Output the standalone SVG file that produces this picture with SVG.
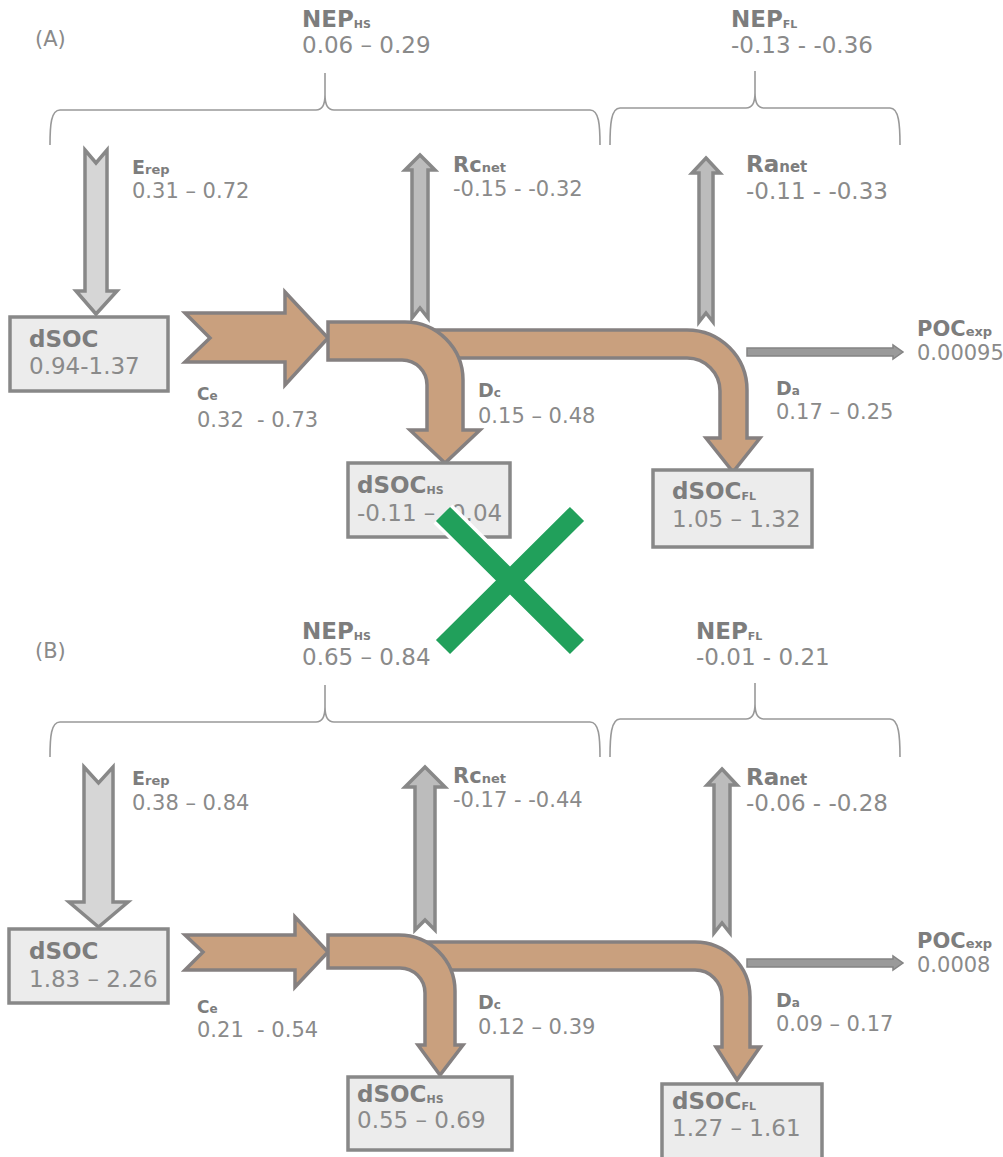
<svg xmlns="http://www.w3.org/2000/svg" width="1003" height="1157" viewBox="0 0 1003 1157">
<style>
text{font-family:"DejaVu Sans","Liberation Sans",sans-serif;fill:#8a8a8a;white-space:pre}
.b{font-weight:bold;fill:#7d7d7d}
.brace{fill:none;stroke:#999;stroke-width:1.6}
.box{fill:#ececec;stroke:#888;stroke-width:3.5}
.pipe{fill:#c9a07e;stroke:#858080;stroke-width:3.5;stroke-linejoin:miter}
.lt{fill:#d6d6d6;stroke:#888;stroke-width:3.5}
.dk{fill:#bcbcbc;stroke:#888;stroke-width:3.5}
.poc{fill:#9a9a9a;stroke:#848484;stroke-width:1.5}
</style>
<rect width="1003" height="1157" fill="#fff"/>
<g id="connectors">
  <!-- Panel A -->
  <path class="brace" d="M50,145 C50,125 51,110 60,110 L316,110 C322,110 325,104 325,95 L325,73 M325,95 C325,104 328,110 334,110 L590,110 C599,110 600,125 600,145"/>
  <path class="brace" d="M610,145 C610,125 611,108 620,108 L746,108 C752,108 755,102 755,93 L755,71 M755,93 C755,102 758,108 764,108 L890,108 C899,108 900,125 900,145"/>
  <polygon class="lt" points="85,150 96,163 107,150 107,291 117,291 96,314 76,291 85,291"/>
  <polygon class="dk" points="420,155 435,170 428,170 428,318 420,308 412,318 412,170 405,170"/>
  <polygon class="dk" points="706,158 720,173 713,173 713,322 706,313 699,322 699,173 692,173"/>
  <polygon class="pipe" points="185,313 285,313 285,292 328,338 285,385 285,362 185,362 210,338"/>
  <path class="pipe" d="M415,330 L687,330 A60,60 0 0 1 747,390 L747,438 L760,438 L733,472 L706,438 L720,438 L720,391 A33,33 0 0 0 687,358 L415,358 Z"/>
  <path class="pipe" d="M328,322 L405,322 A58,58 0 0 1 463,380 L463,430 L480,430 L445,463 L410,430 L427,430 L427,385 A25,25 0 0 0 402,360 L328,360 Z"/>
  <polygon class="poc" points="747,348 893,348 893,345 903,352 893,359 893,356 747,356"/>
  <!-- Panel B -->
  <path class="brace" d="M50,757 C50,737 51,722 60,722 L316,722 C322,722 325,716 325,707 L325,685 M325,707 C325,716 328,722 334,722 L590,722 C599,722 600,737 600,757"/>
  <path class="brace" d="M610,757 C610,737 611,719 620,719 L746,719 C752,719 755,713 755,704 L755,683 M755,704 C755,713 758,719 764,719 L890,719 C899,719 900,737 900,757"/>
  <polygon class="lt" points="84,767 98.5,783 113,767 113,902 128,902 98.5,927 69,902 84,902"/>
  <polygon class="dk" points="425,767 445,787 435,787 435,930 425,920 415,930 415,787 405,787"/>
  <polygon class="dk" points="722,769 737,785 730,785 730,933 722,923 714,933 714,785 707,785"/>
  <polygon class="pipe" points="185,935 295,935 295,917 328,952 295,987 295,970 185,970 203,952"/>
  <path class="pipe" d="M420,942 L695,942 A55,55 0 0 1 750,997 L750,1047 L760,1047 L737,1080 L716,1047 L722,1047 L722,997 A27,27 0 0 0 695,970 L420,970 Z"/>
  <path class="pipe" d="M328,935 L399,935 A56,56 0 0 1 455,991 L455,1045 L463,1045 L440,1075 L418,1045 L425,1045 L425,993 A25,25 0 0 0 400,968 L328,968 Z"/>
  <polygon class="poc" points="747,959 893,959 893,956 903,963 893,970 893,967 747,967"/>
</g>
<!-- Panel A labels -->
<text x="35" y="46" font-size="21">(A)</text>
<g id="nep-hs-a"><text class="b" x="302" y="27" font-size="23">NEP<tspan font-size="11" dy="1">HS</tspan></text><text x="302" y="53" font-size="23">0.06 – 0.29</text></g>
<g id="nep-fl-a"><text class="b" x="731" y="27" font-size="23">NEP<tspan font-size="11" dy="1">FL</tspan></text><text x="731" y="53" font-size="23">-0.13 - -0.36</text></g>
<g id="erep-a"><text class="b" x="132" y="174" font-size="19">E<tspan font-size="13">rep</tspan></text><text x="132" y="198" font-size="21">0.31 – 0.72</text></g>
<g id="rcnet-a"><text class="b" x="453" y="172" font-size="21">Rc<tspan font-size="13">net</tspan></text><text x="453" y="196" font-size="21">-0.15 - -0.32</text></g>
<g id="ranet-a"><text class="b" x="746" y="172" font-size="23">Ra<tspan font-size="15">net</tspan></text><text x="746" y="199" font-size="23">-0.11 - -0.33</text></g>
<g id="dsoc-a"><rect class="box" x="10" y="317" width="158" height="74"/><text class="b" x="29" y="347" font-size="23">dSOC</text><text x="29" y="374" font-size="23">0.94-1.37</text></g>
<g id="ce-a"><text class="b" x="197" y="400" font-size="17">C<tspan font-size="12">e</tspan></text><text x="197" y="427" font-size="21" xml:space="preserve">0.32  - 0.73</text></g>
<g id="dc-a"><text class="b" x="478" y="397" font-size="19">D<tspan font-size="12">c</tspan></text><text x="478" y="423" font-size="21">0.15 – 0.48</text></g>
<g id="da-a"><text class="b" x="776" y="395" font-size="19">D<tspan font-size="12">a</tspan></text><text x="776" y="419" font-size="21">0.17 – 0.25</text></g>
<g id="poc-a"><text class="b" x="917" y="336" font-size="21">POC<tspan font-size="13">exp</tspan></text><text x="917" y="360" font-size="21">0.00095</text></g>
<g id="dsochs-a"><rect class="box" x="348" y="463" width="162" height="74"/><text class="b" x="357" y="493" font-size="23">dSOC<tspan font-size="11" dy="1">HS</tspan></text><text x="357" y="521" font-size="23">-0.11 – -0.04</text></g>
<g id="dsocfl-a"><rect class="box" x="653" y="470" width="159" height="77"/><text class="b" x="672" y="499" font-size="23">dSOC<tspan font-size="11" dy="1">FL</tspan></text><text x="672" y="527" font-size="23">1.05 – 1.32</text></g>
<!-- Panel B labels -->
<text x="35" y="658" font-size="21">(B)</text>
<g id="nep-hs-b"><text class="b" x="302" y="639" font-size="23">NEP<tspan font-size="11" dy="1">HS</tspan></text><text x="302" y="665" font-size="23">0.65 – 0.84</text></g>
<g id="nep-fl-b"><text class="b" x="696" y="639" font-size="23">NEP<tspan font-size="11" dy="1">FL</tspan></text><text x="696" y="665" font-size="23">-0.01 - 0.21</text></g>
<g id="erep-b"><text class="b" x="132" y="785" font-size="19">E<tspan font-size="13">rep</tspan></text><text x="132" y="810" font-size="21">0.38 – 0.84</text></g>
<g id="rcnet-b"><text class="b" x="453" y="783" font-size="21">Rc<tspan font-size="13">net</tspan></text><text x="453" y="807" font-size="21">-0.17 - -0.44</text></g>
<g id="ranet-b"><text class="b" x="746" y="785" font-size="23">Ra<tspan font-size="15">net</tspan></text><text x="746" y="811" font-size="23">-0.06 - -0.28</text></g>
<g id="dsoc-b"><rect class="box" x="9" y="929" width="159" height="74"/><text class="b" x="29" y="959" font-size="23">dSOC</text><text x="29" y="987" font-size="23">1.83 – 2.26</text></g>
<g id="ce-b"><text class="b" x="197" y="1013" font-size="17">C<tspan font-size="12">e</tspan></text><text x="197" y="1037" font-size="21" xml:space="preserve">0.21  - 0.54</text></g>
<g id="dc-b"><text class="b" x="478" y="1009" font-size="19">D<tspan font-size="12">c</tspan></text><text x="478" y="1034" font-size="21">0.12 – 0.39</text></g>
<g id="da-b"><text class="b" x="776" y="1007" font-size="19">D<tspan font-size="12">a</tspan></text><text x="776" y="1031" font-size="21">0.09 – 0.17</text></g>
<g id="poc-b"><text class="b" x="917" y="948" font-size="21">POC<tspan font-size="13">exp</tspan></text><text x="917" y="972" font-size="21">0.0008</text></g>
<g id="dsochs-b"><rect class="box" x="348" y="1077" width="164" height="73"/><text class="b" x="357" y="1102" font-size="23">dSOC<tspan font-size="11" dy="1">HS</tspan></text><text x="357" y="1128" font-size="23">0.55 – 0.69</text></g>
<g id="dsocfl-b"><rect class="box" x="662" y="1084" width="160" height="76"/><text class="b" x="672" y="1109" font-size="23">dSOC<tspan font-size="11" dy="1">FL</tspan></text><text x="672" y="1136" font-size="23">1.27 – 1.61</text></g>
<!-- Green cross -->
<g id="cross">
  <path d="M443,514 L577,647 M577,514 L443,647" fill="none" stroke="#fff" stroke-width="27"/>
  <path d="M443,514 L577,647 M577,514 L443,647" fill="none" stroke="#21a05b" stroke-width="20"/>
</g>
</svg>
